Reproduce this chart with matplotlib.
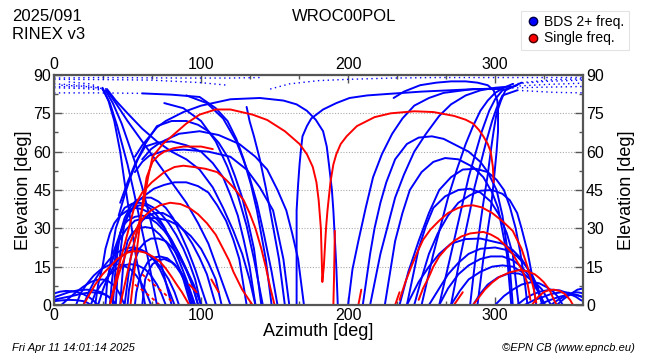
import matplotlib
matplotlib.use('Agg')
import matplotlib.pyplot as plt
from matplotlib.lines import Line2D
from matplotlib.ticker import MultipleLocator

plt.rcParams['font.family'] = ['Liberation Sans', 'DejaVu Sans']

# satellite sky tracks, (azimuth, elevation) points
blue_tracks = [
    [(33, 85), (37, 80), (41, 72), (45, 60), (48, 48), (51, 37), (56, 18), (62, 0)],
    [(33, 84.5), (38, 79), (43, 70), (50, 55), (54, 45), (57, 37), (64, 18), (70, 0)],
    [(35, 84), (40, 79), (46, 71), (55, 56), (60, 46), (64, 37), (72, 18), (80, 0)],
    [(60, 82.8), (80, 82.3), (99, 81.4), (110, 77), (118, 72), (124, 65), (129, 57), (134, 47),
     (138, 37), (144, 18), (148, 0)],
    [(36, 84.5), (42, 80), (50, 75), (60, 69), (70, 64), (80, 60), (90, 57), (99, 53), (108, 46),
     (115, 38), (122, 29), (128, 20), (133, 10), (137, 0)],
    [(36, 84), (42, 79), (50, 72), (60, 64), (75, 52), (90, 40), (98, 32), (105, 24), (110, 16),
     (115, 8), (120, 0)],
    [(60, 57), (66, 61), (72, 63.5), (85, 67), (99, 68), (112, 66.5), (126, 63), (137, 58),
     (145, 53), (152, 45), (158, 37), (162, 28), (166, 18), (170, 0)],
    [(55, 52), (60, 56), (65, 58.5), (75, 60.3), (88, 60.8), (105, 60), (120, 58), (131, 53),
     (140, 46), (145, 41), (149, 37), (156, 18), (160, 0)],
    [(131, 77.5), (133, 72), (136, 66), (140, 57), (144, 46), (147, 37), (153, 18), (157, 0)],
    [(55, 58), (60, 62.5), (65, 66), (70, 69.5), (76, 72), (88, 75.5), (100, 78), (120, 80.5),
     (140, 81), (156, 80), (165, 78.5), (172, 76), (178, 72.5), (183, 68), (185.5, 62),
     (187, 55), (189, 45), (190, 37), (192, 15), (193, 0)],
    [(165, 0), (165, 20), (165, 37), (166, 47), (167, 55), (168, 61), (169, 66), (172, 70),
     (175, 73), (183, 76.5), (192, 79), (201, 81), (213, 82), (225, 82.5), (250, 83.5),
     (280, 84.3), (305, 84.8)],
    [(231, 81), (238, 83.5), (249, 86), (260, 87), (270, 87.5), (280, 87.5), (288, 87),
     (295, 86), (299, 84), (301.5, 80), (302, 76), (302, 68), (301, 60), (299, 48), (297, 37),
     (292, 18), (288, 0)],
    [(210, 0), (215, 20), (218, 30), (222, 40), (226, 48), (232, 57), (240, 63), (248, 65.5),
     (257, 66), (265, 65), (282, 60), (290, 56), (295, 52), (301, 45), (305, 35), (310, 15),
     (312, 0)],
    [(225, 0), (232, 25), (237, 36), (242, 45), (250, 52), (258, 56), (266, 57.5), (275, 57),
     (285, 54), (292, 50), (298, 44), (302, 38), (308, 20), (311, 0)],
    [(240, 0), (248, 22), (253, 31), (258, 38), (266, 42.5), (275, 45), (283, 45.5), (290, 44),
     (297, 40.5), (303, 35), (308, 28), (312, 20), (316, 0)],
    [(200, 0), (203, 14), (207, 25), (212, 38), (217, 50), (223, 59), (230, 67), (237, 73),
     (245, 78), (255, 81), (265, 83), (285, 84.5), (305, 84.5)],
    [(215, 0), (222, 20), (227, 31), (232, 42), (238, 51), (245, 60), (253, 67), (262, 74),
     (270, 78.5), (280, 82), (290, 84), (300, 85), (310, 85.5)],
    [(250, 0), (258, 20), (263, 31), (268, 42), (274, 53), (280, 63), (285, 70), (290, 76),
     (295, 80), (300, 83), (306, 85), (312, 86.5)],
    [(262, 0), (270, 20), (274, 30), (278, 40), (282, 50), (287, 60), (291, 68), (296, 76),
     (300, 80.5), (305, 84), (315, 86)],
    [(270, 0), (276, 18), (283, 37), (286, 46), (290, 55), (294, 64), (298, 72), (301, 77),
     (305, 82), (315, 84)],
    [(283, 0), (287, 20), (292, 40), (295, 51), (297, 60), (299, 68), (301, 75), (304, 80),
     (307, 84), (318, 87)],
    [(240, 0), (248, 9), (255, 15), (262, 20), (270, 24), (280, 25.8), (290, 26), (305, 24),
     (312, 21.5), (318, 18), (323, 13.5), (328, 8), (333, 0)],
    [(255, 0), (262, 6.5), (268, 12), (275, 16.5), (282, 20), (290, 22), (300, 22.5), (308, 21.5),
     (315, 19), (320, 16), (325, 12), (329, 7), (332, 0)],
    [(262, 0), (268, 6.5), (275, 12), (282, 15.5), (290, 18), (297, 19), (305, 19), (312, 17.5),
     (318, 15), (323, 11.5), (328, 7), (334, 0)],
    [(270, 0), (276, 5.5), (282, 10), (290, 13), (298, 15), (305, 15.5), (312, 15), (318, 13),
     (324, 10), (329, 5.5), (333, 0)],
    [(285, 0), (290, 4.5), (295, 8), (302, 10.8), (310, 12.5), (316, 12.3), (322, 11),
     (327, 9), (332, 6), (338, 0)],
    [(300, 0), (306, 3.5), (312, 6), (318, 8), (325, 9), (330, 8.5), (335, 7), (340, 5),
     (343, 3), (346, 0)],
    [(315, 0), (320, 2.3), (325, 4), (331, 5.3), (338, 6), (344, 5.7), (350, 4.5), (355, 3.2),
     (358, 2), (360, 1.5)],
    [(320, 0), (326, 1.8), (332, 3), (338, 4.3), (345, 5), (350, 4.8), (355, 4), (360, 3)],
    [(330, 0), (335, 1.4), (340, 2.5), (345, 3.4), (350, 4), (355, 4), (358, 3.5), (360, 3)],
    [(338, 0), (342, 1.7), (346, 3), (350, 4.1), (354, 5), (357, 4.9), (360, 4.5)],
    [(342, 0), (347, 2.5), (352, 4.5), (356, 6), (360, 6.5)],
    [(245, 0), (250, 10.5), (255, 20), (261, 28), (268, 35), (275, 40), (283, 43), (290, 44.7),
     (298, 45), (305, 43.5), (310, 41), (315, 36), (318, 30), (322, 21), (325, 12), (328, 0)],
    [(235, 0), (241, 13), (248, 25), (255, 36), (262, 45), (270, 50), (278, 53), (287, 53.3),
     (295, 52), (301, 49), (306, 45), (310, 38.5), (314, 30), (317, 21), (320, 10), (322, 0)],
    [(0, 4.5), (4, 5.2), (8, 5.5), (12, 5.4), (16, 5), (20, 4.2), (24, 3), (27, 1.6), (30, 0)],
    [(0, 3), (5, 4), (10, 5), (16, 5.7), (22, 6), (27, 5.8), (32, 5), (36, 3.7), (40, 2), (42, 0)],
    [(0, 2), (6, 2.8), (12, 3.5), (18, 4.3), (25, 5), (30, 4.8), (35, 4), (39, 2.4), (42, 0)],
    [(5, 0), (10, 2.6), (15, 5), (20, 7.2), (25, 9), (29, 9.8), (33, 10), (37, 9.3), (40, 8),
     (43, 6), (45, 4), (48, 0)],
    [(0, 1.5), (5, 1.8), (10, 2), (15, 1.9), (20, 1.5), (23, 0.8), (25, 0)],
    [(28, 0), (30, 8), (33, 15), (35, 22), (38, 28), (41, 32), (45, 35), (50, 37), (55, 38),
     (60, 37.5), (65, 36), (70, 33.5), (75, 30), (80, 25.5), (85, 20), (90, 14), (95, 8), (100, 0)],
    [(35, 0), (36, 8), (38, 15), (40, 23), (42, 30), (45, 35), (48, 38), (53, 39.6), (58, 40),
     (63, 39.5), (68, 38), (73, 35.5), (78, 32), (83, 27.5), (88, 22), (92, 16.5), (96, 10),
     (100, 0)],
    [(40, 0), (41, 8), (42, 15), (43.5, 22), (45, 28), (47, 31), (50, 33), (55, 34.5), (60, 35),
     (65, 34), (70, 32), (75, 29), (80, 25), (85, 20), (90, 14), (94, 8), (98, 0)],
    [(20, 0), (24, 5.5), (28, 10), (33, 14.5), (38, 18), (43, 20.5), (48, 22), (53, 22.5),
     (58, 22), (63, 20.5), (68, 18), (73, 14.5), (78, 10), (82, 5), (85, 0)],
    [(25, 0), (28, 4.5), (32, 8), (37, 11.5), (42, 14), (47, 15.5), (52, 16), (57, 15.5),
     (62, 14), (66, 11.5), (70, 8), (73, 4.5), (76, 0)],
    [(30, 0), (33, 5.5), (36, 10), (40, 14.5), (44, 18), (49, 20.5), (54, 22), (59, 21.5),
     (64, 20), (68, 17.5), (72, 14), (75, 10.3), (78, 6), (82, 0)],
    [(42, 0), (43, 10), (45, 20), (46.5, 27), (48, 32), (51, 35.5), (54, 38), (58, 39),
     (62, 39), (66, 37.5), (70, 35), (75, 30.5), (80, 24), (85, 17.5), (90, 10), (96, 0)],
    [(45, 0), (46, 8), (47, 15), (48.5, 21), (50, 25), (53, 28), (57, 30), (62, 30.5), (67, 30),
     (72, 27.5), (77, 24), (82, 18.5), (87, 12), (93, 0)],
    [(38, 0), (39.5, 10), (42, 20), (45, 28), (48, 34), (52, 38.5), (56, 41), (61, 42),
     (66, 42), (71, 40.5), (76, 38), (81, 34), (86, 28), (91, 21.5), (96, 14), (100, 7), (104, 0)],
    [(15, 0), (18, 4.5), (22, 8), (27, 11.5), (32, 14), (37, 15.5), (42, 16), (47, 15.5),
     (52, 14), (56, 11.5), (60, 8), (63, 4.5), (66, 0)],
    [(50, 0), (51, 6), (53, 12), (55, 17.5), (58, 22), (62, 24.7), (66, 26), (71, 26),
     (76, 25), (81, 22), (86, 18), (90, 13.5), (94, 8), (98, 0)],
    [(55, 0), (56, 5), (58, 10), (61, 14), (64, 17), (68, 18.6), (72, 19), (77, 18.3), (82, 16),
     (86, 12.5), (90, 8), (94, 0)],
    [(60, 0), (61, 5), (62, 10), (64.5, 13.5), (67, 16), (71, 17.5), (75, 18), (80, 16.7),
     (85, 14), (89, 10.5), (92, 6), (95, 0)],
    [(48, 0), (50, 9), (52, 18), (54.5, 24.5), (57, 30), (60, 33), (64, 35), (69, 36), (74, 36),
     (79, 34.5), (84, 32), (89, 28.5), (94, 24), (99, 18.5), (104, 12), (110, 0)],
    [(45, 40), (50, 48), (55, 55), (62, 63), (70, 70), (80, 72), (90, 72), (98, 70.5), (105, 68),
     (112, 63.5), (118, 58), (123, 50.5), (128, 42), (132, 32.5), (136, 22), (141, 0)],
    [(44, 35), (48, 43), (52, 50), (57, 57), (62, 62), (70, 63.5), (80, 64), (90, 62.5),
     (100, 60), (108, 55.5), (115, 50), (120, 43), (125, 35), (129, 25.5), (133, 15), (137, 0)],
    [(40, 20), (45, 28), (50, 35), (55, 39.5), (62, 43), (68, 45.5), (75, 47), (82, 48),
     (90, 48), (98, 46.5), (105, 44), (111, 39), (117, 33), (122, 25.5), (126, 18), (131, 0)],
    [(36, 10), (40, 18), (44, 25), (49, 29.5), (55, 33), (62, 34), (70, 34), (78, 33), (85, 31),
     (93, 27), (100, 22), (105, 16.5), (110, 10), (114, 0)],
    [(75, 79), (88, 77), (100, 72), (110, 64), (118, 54), (125, 43), (131, 31), (136, 18),
     (140, 6), (142, 0)],
    [(90, 82), (104, 79), (115, 73), (124, 64), (132, 52), (138, 40), (143, 27), (148, 13),
     (152, 0)],
]

dotted_tracks = [
    [(0, 88.8), (30, 89), (60, 88.9), (90, 88.8), (120, 88.8), (140, 89)],
    [(0, 88.3), (33, 88.2), (66, 88), (100, 87), (118, 86)],
    [(0, 86.5), (20, 86), (33, 85)],
    [(0, 85.5), (20, 85.3), (33, 84.5)],
    [(10, 87.3), (25, 86.5), (35, 84)],
    [(5, 86), (20, 85.6), (36, 84.5)],
    [(0, 85), (20, 84.7), (36, 84)],
    [(0, 83), (30, 83), (60, 82.8)],
    [(147, 84.5), (160, 86.5), (180, 87.8), (200, 88.3), (230, 88.8), (260, 89), (300, 89),
     (330, 89), (360, 89)],
    [(305, 84.8), (330, 85.2), (360, 85.5)],
    [(310, 85.5), (335, 86.3), (360, 86.8)],
    [(312, 86.5), (335, 87.5), (360, 88)],
    [(315, 84), (340, 83.2), (360, 83)],
    [(318, 87), (340, 88.2), (360, 88.5)],
]

red_tracks = [
    [(45, 0), (52, 18), (57, 30), (61, 40), (64, 50), (67, 58), (74, 63), (81, 66.5), (90, 71),
     (99, 74.5), (110, 76.5), (120, 76.5), (135, 74.5), (145, 72.4), (157, 68), (167, 63),
     (172, 59), (176, 54), (178.5, 48), (180, 41), (181.5, 30), (182, 20), (182.5, 9), (183.5, 15),
     (184, 20), (185, 30), (186, 37), (188, 48), (190, 55), (192, 59), (195, 63), (199, 66),
     (206, 70), (218, 73.5), (229, 75), (245, 75.8), (258, 75.5), (272, 74), (280, 72.5),
     (285, 71), (289, 68.5), (292, 66), (295, 63), (297, 60), (298.5, 54), (299, 48)],
    [(52, 0), (56, 20), (60.5, 41), (63, 50), (67, 56), (71, 58.5), (75, 60), (81, 61.3), (88, 62),
     (100, 62), (108, 61)],
    [(38, 0), (44, 15), (50, 28), (54, 37), (57, 41), (60, 44), (66.5, 48), (75, 52), (82, 54),
     (88, 54.5), (95, 54), (103, 53.3), (111, 52), (117, 49), (122, 46), (129, 41), (133, 36),
     (137, 30), (141, 22), (144, 15), (147, 7), (150, 0)],
    [(20, 0), (24, 4), (28, 8), (33, 12), (38, 15), (43, 18), (47, 19.5), (50, 20.5), (54, 21),
     (58, 21), (62, 20.5), (67, 19), (72, 17), (76, 14.3), (80, 11), (84, 7.5), (87, 5), (92, 0)],
    [(38, 0), (41, 6), (44, 12), (47, 17), (50, 22), (54, 27.5), (58, 32), (62, 35), (66, 37),
     (72, 39), (79, 40), (86, 39.5), (92, 38), (98, 35.5), (104, 32), (110, 27.5), (115, 22),
     (119, 17.5), (122, 13), (125, 9.5), (128, 6), (135, 0)],
    [(190, 0), (190.5, 12), (191, 29)],
    [(207, 0), (209, 6)],
    [(232, 0), (235, 5)],
    [(272, 0), (278, 5)],
    [(235, 2), (239, 9), (243, 15), (247, 20.5), (251, 25.5), (256, 29.5), (262, 33), (268, 36),
     (275, 38), (280, 38.8), (285, 39), (291, 38.2), (298, 36), (305, 32.8), (312, 29),
     (315, 25.5), (318, 22), (320, 18.5), (322, 15), (324, 11), (326, 7), (328, 1)],
    [(248, 2), (251, 6.5), (255, 11), (258, 15), (262, 19), (267, 22.3), (272, 25), (277, 26.8),
     (283, 28), (292, 28.6), (297, 27.6), (302, 26), (307, 23.3), (312, 20), (315, 17),
     (318, 14), (320, 11.5), (322, 8.6), (324, 2)],
    [(285, 0), (289, 3), (293, 6), (298, 8.8), (303, 11), (310, 12.8), (317, 13.7), (322, 13.2),
     (327, 12), (330, 10.6), (333, 9), (335, 7.5), (337, 6), (340, 2), (342, 0)],
    [(325, 0), (329, 3), (333, 5), (336, 5.7), (340, 6), (344, 5.5), (347, 4.5), (349, 3.3),
     (351, 2), (353, 0)],
    [(107, 10), (112, 5)],
    [(92, 8), (97, 5)],
]

red_dashed = [
    [(55, 8), (62, 5), (68, 2), (72, 0)],
    [(60, 12), (68, 8), (76, 4), (82, 0)],
]

BLUE = '#0000ff'
RED = '#ff0000'
AXC = '#555555'

fig = plt.figure(figsize=(6.5, 3.6), dpi=100)
ax = fig.add_axes([0.0831, 0.1528, 0.8143, 0.6389])

for tr in blue_tracks:
    ax.plot([p[0] for p in tr], [p[1] for p in tr], color=BLUE, lw=1.4,
            solid_capstyle='round', solid_joinstyle='round')
for tr in dotted_tracks:
    ax.plot([p[0] for p in tr], [p[1] for p in tr], color=BLUE, lw=1.0, ls=(0, (1, 2.5)))
for tr in red_tracks:
    ax.plot([p[0] for p in tr], [p[1] for p in tr], color=RED, lw=1.4,
            solid_capstyle='round', solid_joinstyle='round')
for tr in red_dashed:
    ax.plot([p[0] for p in tr], [p[1] for p in tr], color=RED, lw=1.3, ls=(0, (2, 2)))

ax.set_xlim(0, 360)
ax.set_ylim(0, 90)
ax.xaxis.set_major_locator(MultipleLocator(100))
ax.xaxis.set_minor_locator(MultipleLocator(100 / 3))
ax.yaxis.set_major_locator(MultipleLocator(15))
ax.yaxis.set_minor_locator(MultipleLocator(7.5))
ax.tick_params(which='both', direction='in', top=True, right=True, labeltop=True,
               labelright=True, color=AXC, labelsize=11.5, pad=2)
ax.tick_params(which='major', length=6, width=1)
ax.tick_params(which='minor', length=3, width=1)
for sp in ax.spines.values():
    sp.set_color(AXC)
    sp.set_linewidth(1.6)
ax.grid(axis='y', which='major', color='#aaaaaa', ls=(0, (1, 1.5)), lw=0.8)
ax.set_axisbelow(True)

ax.set_xlabel('Azimuth [deg]', fontsize=13, labelpad=0)
ax.set_ylabel('Elevation [deg]', fontsize=13, labelpad=1)
ax2 = ax.secondary_yaxis('right')
ax2.set_yticks([])
ax2.spines['right'].set_visible(False)
ax2.set_ylabel('Elevation [deg]', fontsize=13, labelpad=25)

fig.text(0.018, 0.975, '2025/091', fontsize=12, va='top')
fig.text(0.018, 0.925, 'RINEX v3', fontsize=12, va='top')
fig.text(0.53, 0.975, 'WROC00POL', fontsize=12, va='top', ha='center')
fig.text(0.018, 0.033, 'Fri Apr 11 14:01:14 2025', fontsize=8, style='italic', va='center')
fig.text(0.977, 0.033, '\u00a9EPN CB (www.epncb.eu)', fontsize=8, style='italic',
         va='center', ha='right')

handles = [Line2D([], [], ls='none', marker='o', color=BLUE, mec='#000044', ms=6),
           Line2D([], [], ls='none', marker='o', color=RED, mec='#440000', ms=6)]
leg = fig.legend(handles, ['BDS 2+ freq.', 'Single freq.'], loc='upper right',
                 bbox_to_anchor=(0.978, 0.99), fontsize=10, frameon=True, fancybox=False,
                 handletextpad=0.2, borderpad=0.3, labelspacing=0.2, handlelength=1.2)
leg.get_frame().set_edgecolor('#dddddd')
leg.get_frame().set_linewidth(0.8)

fig.savefig('out.png', dpi=100)
